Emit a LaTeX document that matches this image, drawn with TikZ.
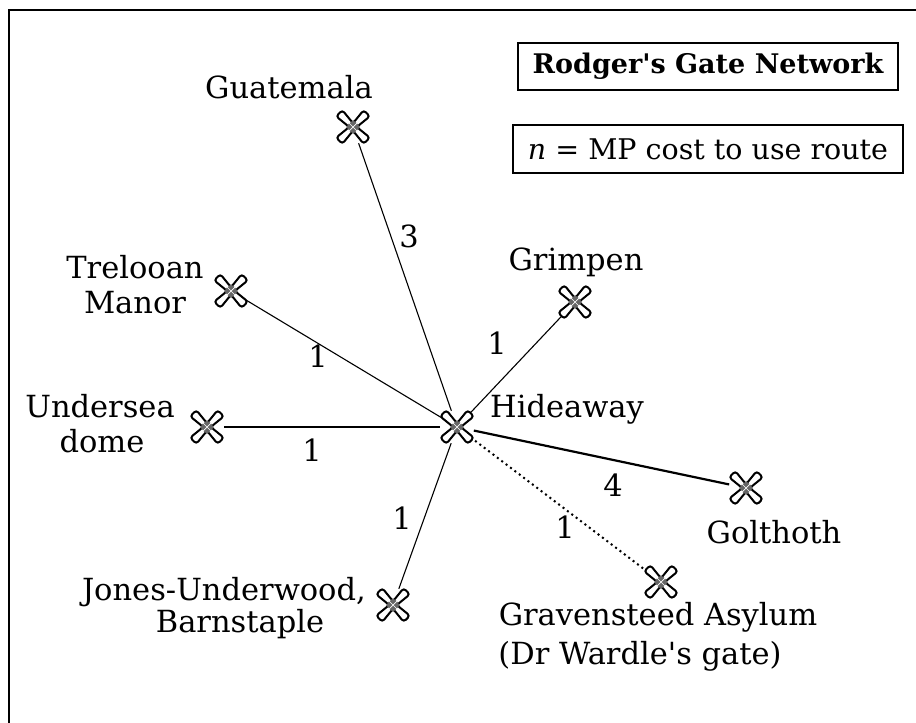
\documentclass[tikz,border=0pt]{standalone}
\usepackage{fontspec}
\setmainfont{DejaVu Serif}
\begin{document}
\begin{tikzpicture}[x=1pt,y=-1pt,
  every node/.style={font=\fontsize{30.5}{36}\selectfont, inner sep=0pt},
  gatenode/.style={circle, minimum size=34pt, inner sep=0pt},
  lbl/.style={anchor=base},
  num/.style={anchor=center},
  route/.style={line width=1.1pt},
  heavy/.style={line width=2.2pt},
  dotroute/.style={line width=2pt, dash pattern=on 2pt off 3.5pt},
  titlebox/.style={draw, line width=1.6pt, anchor=center},
  gatex/.pic={
    \foreach \a in {45,135,225,315} {
      \draw[rotate=\a, fill=white, line width=2pt, rounded corners=3pt]
        (2,-2.6) -- (19.5,-4.4) -- (19.5,4.4) -- (2,2.6) -- cycle;
    }
    \fill[black!60] (0,-7) -- (7,0) -- (0,7) -- (-7,0) -- cycle;
    \draw[white, line width=0.7pt] (-4,-4) -- (4,4) (-4,4) -- (4,-4);
  }]
\useasboundingbox (0,0) rectangle (916,723);
\fill[white] (0,0) rectangle (916,723);
\draw[line width=2.6pt] (9,723) -- (9,10) -- (916,10);

% gates
\node[gatenode] (hid) at (457,427) {};
\node[gatenode] (gua) at (353,127) {};
\node[gatenode] (tre) at (231,291) {};
\node[gatenode] (gri) at (575,302) {};
\node[gatenode] (und) at (207,427) {};
\node[gatenode] (gol) at (746,488) {};
\node[gatenode] (gra) at (661,582) {};
\node[gatenode] (jon) at (393,605) {};

% routes
\draw[route] (hid) -- (gua);
\draw[route] (hid) -- (tre);
\draw[route] (hid) -- (gri);
\draw[route] (hid) -- (und);
\draw[heavy] (hid) -- (gol);
\draw[dotroute] (hid) -- (gra);
\draw[route] (hid) -- (jon);

\foreach \p in {(457,427),(353,127),(231,291),(575,302),(207,427),(746,488),(661,582),(393,605)}
  \pic at \p {gatex};

% place names
\node[lbl] (tGua) at (289,98) {Guatemala};
\node[lbl] (tTre1) at (135,278) {Trelooan};
\node[lbl] (tTre2) at (135,313) {Manor};
\node[lbl] (tGri) at (576,270) {Grimpen};
\node[lbl] (tUnd1) at (100,417) {Undersea};
\node[lbl] (tUnd2) at (102,452) {dome};
\node[lbl] (tHid) at (567,417) {Hideaway};
\node[lbl] (tGol) at (774,543) {Golthoth};
\node[lbl] (tGra1) at (658,625) {Gravensteed Asylum};
\node[lbl] (tGra2) at (640,664) {(Dr Wardle\textquotesingle s gate)};
\node[lbl, anchor=base east] (tJon1) at (366,600) {Jones-Underwood,};
\node[lbl] (tJon2) at (240,632) {Barnstaple};

% costs
\node[num] (c3) at (409,236) {3};
\node[num] (c1a) at (318,356) {1};
\node[num] (c1b) at (497,343) {1};
\node[num] (c1c) at (312,450) {1};
\node[num] (c4) at (613,485) {4};
\node[num] (c1d) at (565,527) {1};
\node[num] (c1e) at (402,518) {1};

% boxes
\node[titlebox, font=\fontsize{27}{32}\selectfont\bfseries, minimum width=380pt, minimum height=47pt] (title) at (708,66.5)
  {Rodger\textquotesingle s Gate Network};
\node[titlebox, font=\fontsize{28.5}{34}\selectfont, line width=1.2pt, minimum width=390pt, minimum height=48pt] (key) at (708,149)
  {\textit{n} = MP cost to use route};
\end{tikzpicture}
\end{document}
